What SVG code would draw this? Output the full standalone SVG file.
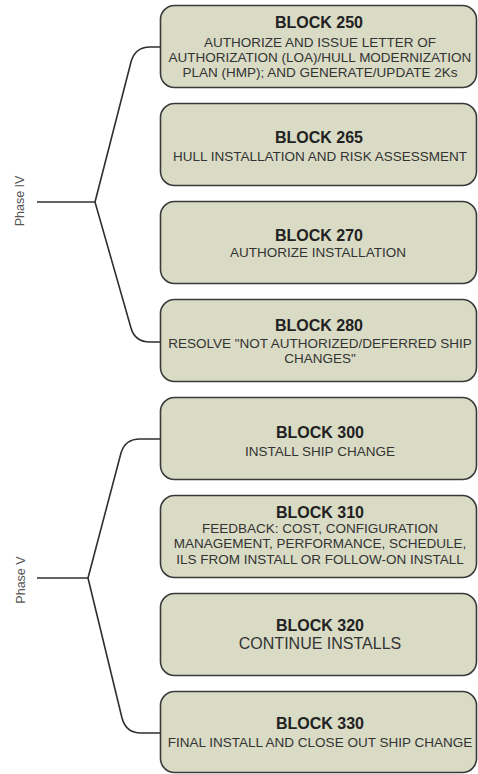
<svg xmlns="http://www.w3.org/2000/svg" width="478" height="774" viewBox="0 0 478 774">
<style>
.box{fill:#d9dbc5;stroke:#3a3a3a;stroke-width:1.6}
.t{font-family:"Liberation Sans",Arial,sans-serif;font-weight:bold;font-size:16px;fill:#222;text-anchor:middle}
.d{font-family:"Liberation Sans",Arial,sans-serif;font-size:13.5px;fill:#333;text-anchor:middle}
.big{font-size:16px}
.ph{font-family:"Liberation Sans",Arial,sans-serif;font-size:12.5px;fill:#555;text-anchor:middle}
.c{fill:none;stroke:#2f2f2f;stroke-width:1.6}
</style>
<rect width="478" height="774" fill="#ffffff"/>
<g id="connectors">
<path class="c" d="M37 202 L95 202"/>
<path class="c" d="M95 202 L131 62 Q135 47 150 47 L160 47"/>
<path class="c" d="M95 202 L131 328 Q135 342 150 342 L160 342"/>
<path class="c" d="M37 578 L88 578"/>
<path class="c" d="M88 578 L121 453 Q125 439 140 439 L160 439"/>
<path class="c" d="M88 578 L122 718 Q126 733 141 733 L160 733"/>
</g>
<g id="phase4"><text class="ph" transform="translate(24,201) rotate(-90)">Phase IV</text></g>
<g id="phase5"><text class="ph" transform="translate(25,580) rotate(-90)">Phase V</text></g>
<g id="block250">
<rect class="box" x="160.5" y="5.5" width="316" height="82" rx="14"/>
<text class="t" x="319" y="28">BLOCK 250</text>
<text class="d" x="320" y="47">AUTHORIZE AND ISSUE LETTER OF</text>
<text class="d" x="320" y="62">AUTHORIZATION (LOA)/HULL MODERNIZATION</text>
<text class="d" x="320" y="77">PLAN (HMP); AND GENERATE/UPDATE 2Ks</text>
</g>
<g id="block265">
<rect class="box" x="160.5" y="103.5" width="316" height="82" rx="14"/>
<text class="t" x="319" y="143">BLOCK 265</text>
<text class="d" x="320" y="161">HULL INSTALLATION AND RISK ASSESSMENT</text>
</g>
<g id="block270">
<rect class="box" x="160.5" y="201.5" width="316" height="82" rx="14"/>
<text class="t" x="319" y="241">BLOCK 270</text>
<text class="d" x="318" y="257">AUTHORIZE INSTALLATION</text>
</g>
<g id="block280">
<rect class="box" x="160.5" y="299.5" width="316" height="82" rx="14"/>
<text class="t" x="319" y="331">BLOCK 280</text>
<text class="d" x="320" y="348">RESOLVE "NOT AUTHORIZED/DEFERRED SHIP</text>
<text class="d" x="320" y="363">CHANGES"</text>
</g>
<g id="block300">
<rect class="box" x="160.5" y="397.5" width="316" height="82" rx="14"/>
<text class="t" x="320" y="438">BLOCK 300</text>
<text class="d" x="320" y="456">INSTALL SHIP CHANGE</text>
</g>
<g id="block310">
<rect class="box" x="160.5" y="495.5" width="316" height="82" rx="14"/>
<text class="t" x="320" y="518">BLOCK 310</text>
<text class="d" x="320" y="533">FEEDBACK: COST, CONFIGURATION</text>
<text class="d" x="320" y="548">MANAGEMENT, PERFORMANCE, SCHEDULE,</text>
<text class="d" x="320" y="564">ILS FROM INSTALL OR FOLLOW-ON INSTALL</text>
</g>
<g id="block320">
<rect class="box" x="160.5" y="593.5" width="316" height="82" rx="14"/>
<text class="t" x="320" y="631">BLOCK 320</text>
<text class="d big" x="320" y="649">CONTINUE INSTALLS</text>
</g>
<g id="block330">
<rect class="box" x="160.5" y="691.5" width="316" height="81" rx="14"/>
<text class="t" x="320" y="729">BLOCK 330</text>
<text class="d" x="320" y="747">FINAL INSTALL AND CLOSE OUT SHIP CHANGE</text>
</g>
</svg>
